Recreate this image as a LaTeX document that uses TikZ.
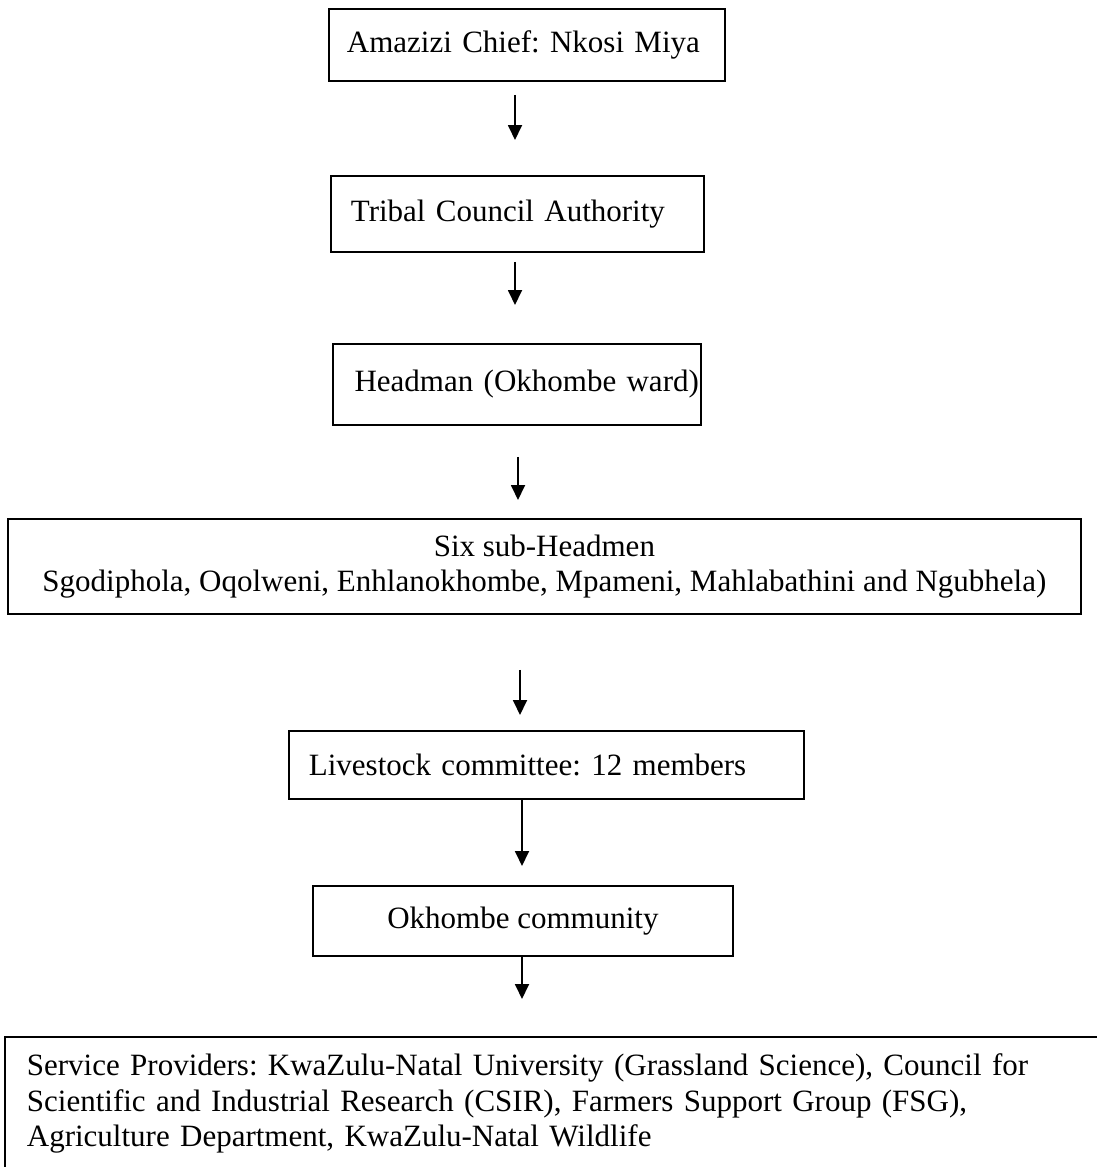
\documentclass[tikz,border=0pt]{standalone}
\usepackage{fontspec}
\setmainfont{Liberation Serif}
\usetikzlibrary{arrows.meta}

\begin{document}
\begin{tikzpicture}[
    x=0.5pt,y=-0.5pt,
    box/.style={draw,line width=0.9pt,inner xsep=10pt,inner ysep=0pt,anchor=north west,
      align=left,font=\fontsize{15.5}{17.5}\selectfont\frenchspacing},
    midbox/.style={box,align=center,inner xsep=4pt},
    arrow/.style={-{Triangle[length=7.5pt,width=7pt]},line width=0.9pt}
  ]
    \useasboundingbox (0,0) rectangle (1097,1167);
    \clip (0,0) rectangle (1097,1167);
    \node[box,inner xsep=9pt,text width=180pt,minimum height=36pt] (chief) at (328,8) {Amazizi Chief: Nkosi Miya};
    \node[box,text width=166.5pt,minimum height=38pt] (tribal) at (330,175) {Tribal Council Authority};
    \node[box,align=right,inner xsep=1pt,text width=182pt,minimum height=40.5pt] (headman) at (332,343) {Headman (Okhombe ward)};
    \node[midbox,minimum width=536.5pt,minimum height=47.5pt] (subheads) at (7,518)
      {Six sub-Headmen\\Sgodiphola, Oqolweni, Enhlanokhombe, Mpameni, Mahlabathini and Ngubhela)};
    \node[box,text width=237.5pt,minimum height=34pt] (livestock) at (288,730) {Livestock committee: 12 members};
    \node[midbox,minimum width=210pt,minimum height=35pt] (community) at (312,885) {Okhombe community};
    \node[box,draw=none,inner xsep=10.5pt,inner ysep=8pt,text width=560pt,
      font=\fontsize{15.5}{17.75}\selectfont\frenchspacing] (providers) at (5,1037)
      {Service Providers: KwaZulu-Natal University (Grassland Science), Council for\\
       Scientific and Industrial Research (CSIR), Farmers Support Group (FSG),\\
       Agriculture Department, KwaZulu-Natal Wildlife\\[30pt]};
    \draw[line width=0.9pt] (providers.south west) -- (providers.north west) -- (providers.north east);
    \draw[arrow,shorten <=6.5pt,shorten >=17.5pt] (515,0 |- chief.south) -- (515,0 |- tribal.north);
    \draw[arrow,shorten <=4.5pt,shorten >=19pt] (515,0 |- tribal.south) -- (515,0 |- headman.north);
    \draw[arrow,shorten <=15.5pt,shorten >=9pt] (518,0 |- headman.south) -- (518,0 |- subheads.north);
    \draw[arrow,shorten <=27.5pt,shorten >=7.5pt] (520,0 |- subheads.south) -- (520,0 |- livestock.north);
    \draw[arrow,shorten >=9.5pt] (522,0 |- livestock.south) -- (522,0 |- community.north);
    \draw[arrow,shorten >=19pt] (522,0 |- community.south) -- (522,0 |- providers.north);
  \end{tikzpicture}
\end{document}
